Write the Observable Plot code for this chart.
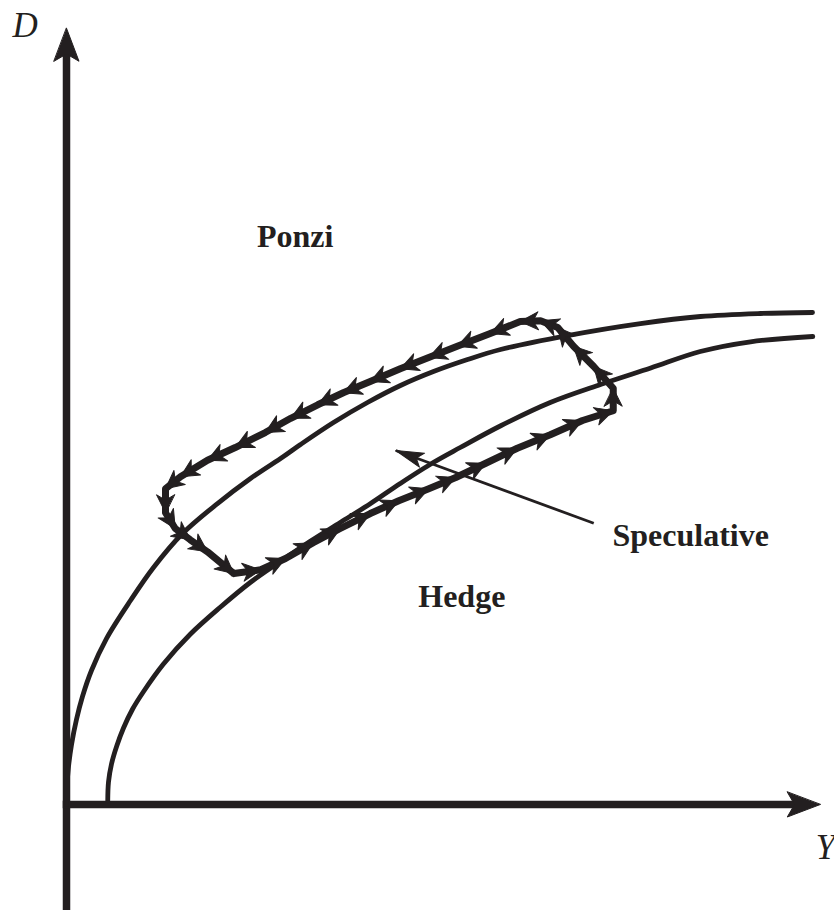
<!DOCTYPE html>
<html>
<head>
<meta charset="utf-8">
<script src="https://cdn.jsdelivr.net/npm/d3@7"></script>
<script src="https://cdn.jsdelivr.net/npm/@observablehq/plot@0.6"></script>
<style>
  body { margin: 0; background: #fff; }
  svg { display: block; }
</style>
</head>
<body>
<div id="chart"></div>
<script>
// ---- Data (abstract units: origin at the axes' intersection) ----
// Boundary between Ponzi and Speculative finance
const c1x = [0, 0.07, 0.27, 0.67, 1.33, 2.13, 3.33, 5.33, 8.53, 11.6, 15.47, 20.13, 24.53, 28.93, 31.2, 35.6, 40.13, 44.53, 48.93, 53.47, 57.87, 66.8, 76.53, 84.53, 92.53, 99.47];
const c1y = [0, 2.53, 5.07, 8.0, 11.33, 14.4, 17.87, 22.13, 27.2, 31.6, 36.13, 40.13, 43.47, 46.4, 48.0, 50.93, 53.6, 55.87, 57.73, 59.33, 60.67, 62.53, 64.13, 65.07, 65.47, 65.6];
// Boundary between Speculative and Hedge finance
const c2x = [5.5, 5.6, 6.0, 6.7, 7.6, 8.8, 10.3, 12.9, 16.5, 20.5, 24.5, 28.5, 32.5, 36.5, 40.5, 44.5, 48.9, 52.5, 57.9, 64.5, 71.2, 77.9, 84.5, 91.2, 99.5];
const c2y = [0.5, 3.0, 5.4, 7.8, 10.2, 12.7, 15.1, 18.7, 22.7, 26.3, 29.6, 32.4, 35.1, 37.6, 40.1, 42.8, 45.6, 47.6, 50.5, 53.6, 56.0, 58.2, 60.4, 61.7, 62.4];
// Cycle path (in travel order, closed)
const loopX = [22.3, 25.9, 29.2, 32.9, 36.5, 40.5, 44.3, 48.3, 51.9, 55.9, 60.1, 64.5, 68.8, 72.9, 72.9, 70.3, 67.6, 65.5, 63.2, 60.5, 56.5, 52.1, 48.3, 44.5, 40.5, 36.9, 33.5, 29.9, 26.5, 22.5, 18.8, 15.2, 13.2, 13.2, 14.5, 16.5, 18.8, 22.3];
const loopY = [30.8, 31.3, 32.8, 34.9, 36.8, 38.8, 40.5, 42.1, 43.6, 45.5, 47.5, 49.3, 51.2, 52.5, 55.5, 58.4, 61.1, 63.6, 64.5, 64.4, 62.8, 61.1, 59.6, 58.1, 56.4, 54.9, 53.3, 51.5, 49.6, 47.6, 45.9, 43.7, 42.1, 38.9, 36.8, 35.3, 33.7, 30.8];
// Axes: [start, tip]
const axisYRange = [-14.2, 103.5];
const axisXRange = [0, 100.5];
const axisLabels = ["D", "Y"];
const axisLabelX = [-7.2, 99.9];
const axisLabelY = [102.3, -7.2];
// Region labels
const regionLabels = ["Ponzi", "Speculative", "Hedge"];
const regionX = [25.4, 72.8, 46.9];
const regionY = [74.4, 34.5, 26.4];
// Pointer from "Speculative" into the region: [start, tip]
const pointerX = [70.3, 43.9];
const pointerY = [37.5, 47.2];

// ---- Helpers ----
const ink = "#231f20";
const heading = (x0, y0, x1, y1) => Math.atan2(x1 - x0, y1 - y0) * 180 / Math.PI;
function barb(notch) {
  return {
    draw(ctx, l, r) {
      ctx.moveTo(0, -l);
      ctx.lineTo(r, 0);
      ctx.lineTo(0, -l * notch);
      ctx.lineTo(-r, 0);
      ctx.closePath();
    }
  };
}

const curve1 = c1x.map((x, i) => ({x, y: c1y[i]}));
const curve2 = c2x.map((x, i) => ({x, y: c2y[i]}));
const loop = loopX.map((x, i) => ({x, y: loopY[i]}));
const loopHeads = loop.slice(1).map((p, i) => ({x: p.x, y: p.y, rot: heading(loop[i].x, loop[i].y, p.x, p.y)}));

const axes = [
  {x1: 0, y1: axisYRange[0], x2: 0, y2: axisYRange[1] - 2},
  {x1: axisXRange[0] - 0.5, y1: 0, x2: axisXRange[1] - 2, y2: 0}
];
const axisHeads = [
  {x: 0, y: axisYRange[1], rot: 0},
  {x: axisXRange[1], y: 0, rot: 90}
];
const pointer = [{x1: pointerX[0], y1: pointerY[0], x2: pointerX[1], y2: pointerY[1]}];
const pointerHead = [{x: pointerX[1], y: pointerY[1], rot: heading(pointerX[0], pointerY[0], pointerX[1], pointerY[1])}];

const axisText = axisLabels.map((t, i) => ({t, x: axisLabelX[i], y: axisLabelY[i]}));
const regionText = regionLabels.map((t, i) => ({t, x: regionX[i], y: regionY[i]}));

const chart = Plot.plot({
  width: 834,
  height: 910,
  margin: 0,
  x: {domain: [-8.8, 102.4], axis: null},
  y: {domain: [-14.13, 107.2], axis: null},
  style: {background: "#fff", color: ink, fontFamily: "Liberation Serif, serif"},
  marks: [
    Plot.link(axes, {x1: "x1", y1: "y1", x2: "x2", y2: "y2", stroke: ink, strokeWidth: 7.5, strokeLinecap: "butt"}),
    Plot.vector(axisHeads, {x: "x", y: "y", rotate: "rot", length: 33, r: 12.5, anchor: "end", shape: barb(0.22), fill: ink, stroke: ink, strokeWidth: 1}),
    Plot.line(curve1, {x: "x", y: "y", curve: "catmull-rom", stroke: ink, strokeWidth: 4.8}),
    Plot.line(curve2, {x: "x", y: "y", curve: "catmull-rom", stroke: ink, strokeWidth: 4.8}),
    Plot.line(loop, {x: "x", y: "y", curve: "linear", stroke: ink, strokeWidth: 7, strokeLinejoin: "round"}),
    Plot.vector(loopHeads, {x: "x", y: "y", rotate: "rot", length: 18, r: 9, anchor: "end", shape: barb(0.3), fill: ink, stroke: ink, strokeWidth: 1}),
    Plot.link(pointer, {x1: "x1", y1: "y1", x2: "x2", y2: "y2", stroke: ink, strokeWidth: 2.8, strokeLinecap: "butt"}),
    Plot.vector(pointerHead, {x: "x", y: "y", rotate: "rot", length: 28, r: 7.5, anchor: "end", shape: barb(0.22), fill: ink, stroke: ink, strokeWidth: 1}),
    Plot.text(regionText, {x: "x", y: "y", text: "t", textAnchor: "start", lineAnchor: "bottom", fontSize: 32, fontWeight: "bold", fontFamily: "Liberation Serif", fill: ink}),
    Plot.text(axisText, {x: "x", y: "y", text: "t", textAnchor: "start", lineAnchor: "bottom", fontSize: 35, fontStyle: "italic", fontFamily: "Liberation Serif", fill: ink})
  ]
});
document.getElementById("chart").appendChild(chart);
</script>
</body>
</html>
